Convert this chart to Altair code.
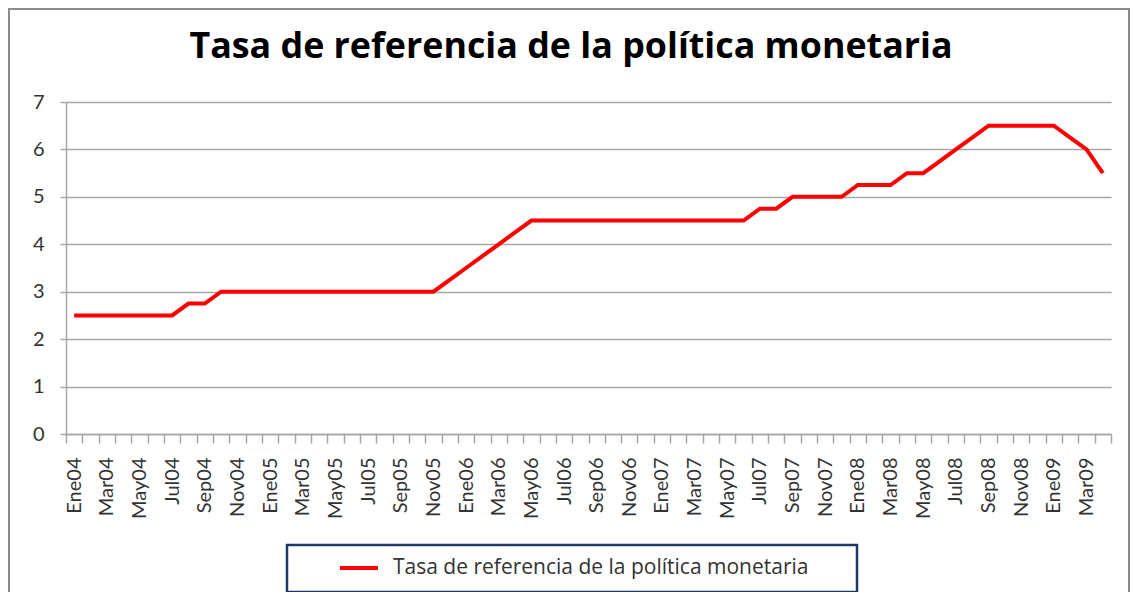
import altair as alt
import pandas as pd

# ---- data ----
month_names = ["Ene", "Feb", "Mar", "Abr", "May", "Jun", "Jul", "Ago", "Sep", "Oct", "Nov", "Dic"]
years = ["04", "05", "06", "07", "08", "09"]
categories = [m + y for y in years for m in month_names][:64]  # Ene04 .. Abr09

rates = [
    2.5, 2.5, 2.5, 2.5, 2.5, 2.5, 2.5,          # Ene04-Jul04
    2.75, 2.75,                                  # Ago04-Sep04
    3.0, 3.0, 3.0, 3.0, 3.0, 3.0, 3.0,           # Oct04-Abr05
    3.0, 3.0, 3.0, 3.0, 3.0, 3.0, 3.0,           # May05-Nov05
    3.25, 3.5, 3.75, 4.0, 4.25,                  # Dic05-Abr06
    4.5, 4.5, 4.5, 4.5, 4.5, 4.5, 4.5,           # May06-Nov06
    4.5, 4.5, 4.5, 4.5, 4.5, 4.5, 4.5,           # Dic06-Jun07
    4.75, 4.75,                                  # Jul07-Ago07
    5.0, 5.0, 5.0, 5.0,                          # Sep07-Dic07
    5.25, 5.25, 5.25,                            # Ene08-Mar08
    5.5, 5.5,                                    # Abr08-May08
    5.75, 6.0, 6.25,                             # Jun08-Ago08
    6.5, 6.5, 6.5, 6.5, 6.5,                     # Sep08-Ene09
    6.25, 6.0, 5.5,                              # Feb09-Abr09
]

series_name = "Tasa de referencia de la política monetaria"
title_text = "Tasa de referencia de la política monetaria"

df = pd.DataFrame({"mes": categories, "tasa": rates})

FONT = "Lato"
FONT2 = "Open Sans"
W, H = 1045, 332

line = alt.Chart(df).mark_line(color="#FF0000", strokeWidth=4, strokeJoin="miter").encode(
    x=alt.X(
        "mes:N",
        sort=categories,
        title=None,
        scale=alt.Scale(type="band", paddingInner=0, paddingOuter=0),
        axis=alt.Axis(
            labelAngle=270,
            labelFont=FONT,
            labelFontSize=20,
            labelColor="#333333",
            labelPadding=14,
            labelOverlap=False,
            labelExpr="test(/^(Ene|Mar|May|Jul|Sep|Nov)/, datum.label) ? datum.label : ''",
            tickBand="extent",
            tickSize=9,
            tickColor="#A6A6A6",
            tickWidth=1.5,
            domainColor="#A6A6A6",
            domainWidth=1.5,
            grid=False,
        ),
    ),
    y=alt.Y(
        "tasa:Q",
        title=None,
        scale=alt.Scale(domain=[0, 7], nice=False),
        axis=alt.Axis(
            values=[0, 1, 2, 3, 4, 5, 6, 7],
            labelFont=FONT,
            labelFontSize=20,
            labelColor="#333333",
            labelPadding=16,
            tickSize=6,
            tickColor="#A6A6A6",
            tickWidth=1.5,
            domainColor="#A6A6A6",
            domainWidth=1.5,
            grid=True,
            gridColor="#A6A6A6",
            gridWidth=1.5,
        ),
    ),
)

# outer frame
frame = alt.Chart(pd.DataFrame({"k": [0]})).mark_rect(
    fill="transparent", stroke="#8C8C8C", strokeWidth=2
).encode(x=alt.value(-57), x2=alt.value(1063), y=alt.value(-93), y2=alt.value(500))

title = alt.Chart(pd.DataFrame({"t": [title_text]})).mark_text(
    font=FONT2, fontSize=35.8, fontWeight="bold", color="#000000",
    align="center", baseline="alphabetic"
).encode(x=alt.value(505), y=alt.value(-44), text="t:N")

legend_box = alt.Chart(pd.DataFrame({"k": [0]})).mark_rect(
    fill="white", stroke="#1F3864", strokeWidth=2.5
).encode(x=alt.value(221), x2=alt.value(791), y=alt.value(443), y2=alt.value(490))

legend_sym = alt.Chart(pd.DataFrame({"k": [0]})).mark_rule(
    color="#FF0000", strokeWidth=4
).encode(x=alt.value(274), x2=alt.value(312), y=alt.value(466))

legend_txt = alt.Chart(pd.DataFrame({"t": [series_name]})).mark_text(
    font=FONT2, fontSize=21, color="#333333", align="left", baseline="middle"
).encode(x=alt.value(327), y=alt.value(466), text="t:N")

chart = alt.layer(frame, line, title, legend_box, legend_sym, legend_txt).properties(
    width=W,
    height=H,
    autosize=alt.AutoSizeParams(type="none"),
    padding={"left": 58, "top": 94, "right": 20, "bottom": 158},
    background="white",
).configure_view(stroke=None)

chart.save("out.html", embed_options={"renderer": "svg", "actions": False})
